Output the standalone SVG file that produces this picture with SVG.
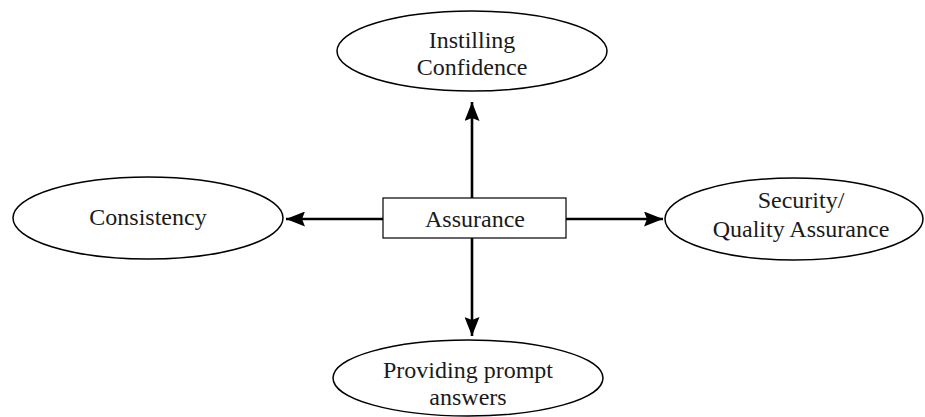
<svg xmlns="http://www.w3.org/2000/svg" width="925" height="417" viewBox="0 0 925 417">
  <style>
    .node { fill: #fff; stroke: #000; stroke-width: 1.5; }
    .box { fill: #fff; stroke: #000; stroke-width: 1.2; }
    .label { font-family: "Liberation Serif", "Times New Roman", serif; font-size: 24px; fill: #1a1a1a; text-anchor: middle; }
    .edge { stroke: #000; stroke-width: 2.6; fill: none; }
  </style>
  <defs>
    <marker id="arrow" viewBox="0 0 19 15" refX="19" refY="7.5" markerWidth="19" markerHeight="15" markerUnits="userSpaceOnUse" orient="auto">
      <path d="M0,0 L19,7.5 L0,15 L3,7.5 Z" fill="#000"/>
    </marker>
  </defs>
  <rect width="925" height="417" fill="#fff"/>

  <g id="connectors">
    <line class="edge" x1="472" y1="198" x2="472" y2="102" marker-end="url(#arrow)"/>
    <line class="edge" x1="472" y1="238" x2="472" y2="336" marker-end="url(#arrow)"/>
    <line class="edge" x1="383" y1="219" x2="286" y2="219" marker-end="url(#arrow)"/>
    <line class="edge" x1="566" y1="219" x2="663" y2="219" marker-end="url(#arrow)"/>
  </g>

  <g id="assurance">
    <rect class="box" x="383" y="198" width="183" height="40"/>
    <text class="label" x="475" y="227">Assurance</text>
  </g>

  <g id="instilling-confidence">
    <ellipse class="node" cx="472" cy="51" rx="135" ry="40"/>
    <text class="label" x="472" y="48">Instilling</text>
    <text class="label" x="472" y="75">Confidence</text>
  </g>

  <g id="consistency">
    <ellipse class="node" cx="148" cy="218" rx="135" ry="41"/>
    <text class="label" x="148" y="225">Consistency</text>
  </g>

  <g id="security-quality">
    <ellipse class="node" cx="794" cy="219" rx="129" ry="41"/>
    <text class="label" x="801" y="208">Security/</text>
    <text class="label" x="801" y="237">Quality Assurance</text>
  </g>

  <g id="prompt-answers">
    <ellipse class="node" cx="468" cy="378" rx="135" ry="38"/>
    <text class="label" x="468" y="378">Providing prompt</text>
    <text class="label" x="468" y="405">answers</text>
  </g>
</svg>
